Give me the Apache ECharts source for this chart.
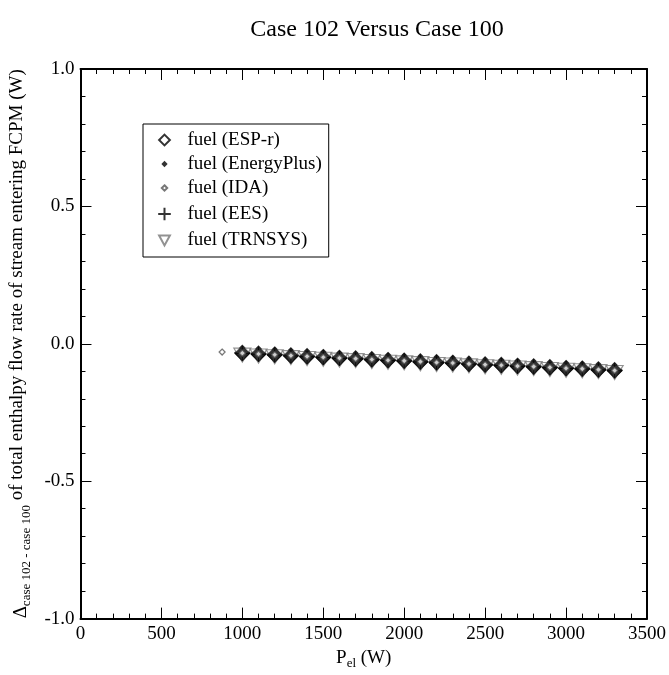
<!DOCTYPE html>
<html><head><meta charset="utf-8">
<script src="https://cdn.jsdelivr.net/npm/echarts@6/dist/echarts.min.js"></script>
<style>html,body{margin:0;padding:0;background:#fff}#c{width:669px;height:675px}</style>
</head><body><div id="c"></div>
<script>
const xTicks = [0, 500, 1000, 1500, 2000, 2500, 3000, 3500];
const yTicks = [-1.0, -0.5, 0.0, 0.5, 1.0];
const pel = [1000,1100,1200,1300,1400,1500,1600,1700,1800,1900,2000,2100,2200,2300,2400,2500,2600,2700,2800,2900,3000,3100,3200,3300];
const espr =   [-0.033,-0.036,-0.039,-0.042,-0.045,-0.048,-0.051,-0.053,-0.056,-0.059,-0.061,-0.064,-0.067,-0.069,-0.072,-0.075,-0.077,-0.080,-0.082,-0.085,-0.088,-0.090,-0.093,-0.096];
const eplus =  [-0.035,-0.038,-0.041,-0.044,-0.047,-0.050,-0.053,-0.055,-0.058,-0.061,-0.063,-0.066,-0.069,-0.071,-0.074,-0.077,-0.079,-0.082,-0.084,-0.087,-0.090,-0.092,-0.095,-0.098];
const idaX =   [875,1000,1100,1200,1300,1400,1500,1600,1700,1800,1900,2000,2100,2200,2300,2400,2500,2600,2700,2800,2900,3000,3100,3200,3300];
const ida =    [-0.030,-0.034,-0.037,-0.040,-0.043,-0.046,-0.049,-0.052,-0.054,-0.057,-0.060,-0.062,-0.065,-0.068,-0.070,-0.073,-0.076,-0.078,-0.081,-0.083,-0.086,-0.089,-0.091,-0.094,-0.097];
const ees =    [-0.035,-0.038,-0.041,-0.044,-0.047,-0.050,-0.053,-0.055,-0.058,-0.061,-0.063,-0.066,-0.069,-0.071,-0.074,-0.077,-0.079,-0.082,-0.084,-0.087,-0.090,-0.092,-0.095,-0.098];
const trnsys = [-0.034,-0.037,-0.040,-0.043,-0.046,-0.049,-0.052,-0.054,-0.057,-0.060,-0.062,-0.065,-0.068,-0.070,-0.073,-0.076,-0.078,-0.081,-0.083,-0.086,-0.089,-0.091,-0.094,-0.097];
const names = ['fuel (ESP-r)','fuel (EnergyPlus)','fuel (IDA)','fuel (EES)','fuel (TRNSYS)'];

const F = 'Liberation Serif, Times New Roman, serif';
const zip = (xs, ys) => xs.map((x,i)=>[x, ys[i]]);
const pad = 'M0,0L0,0M20,20L20,20';
const icons = [
  'path://'+pad+'M10,4L16,10L10,16L4,10Z',
  'path://'+pad+'M10,6.5L13.5,10L10,13.5L6.5,10Z',
  'path://'+pad+'M10,7L13,10L10,13L7,10Z',
  'path://'+pad+'M10,3L10,17M3,10L17,10',
  'path://'+pad+'M4,5L16,5L10,16Z'
];
const tri = 'path://M0,0L14,0L7,12Z';
const plus = 'path://M5,0L5,10M0,5L10,5';

const chart = echarts.init(document.getElementById('c'), null, {renderer:'canvas'});
const axisCommon = () => ({
  axisLine:{onZero:false,lineStyle:{color:'#000',width:2}},
  axisTick:{inside:true,length:11,lineStyle:{color:'#000',width:1}},
  minorTick:{show:true,splitNumber:5,length:5,lineStyle:{color:'#000',width:1}},
  splitLine:{show:false}
});
chart.setOption({
  animation:false,
  backgroundColor:'#fff',
  title:{text:'Case 102 Versus Case 100',left:372,top:13,textAlign:'center',
    textStyle:{fontFamily:F,fontSize:24,fontWeight:'normal',color:'#000'}},
  grid:{left:78,right:20,top:69,bottom:49},
  legend:{orient:'vertical',left:143,top:124,padding:[6,7,7,10],itemGap:4.5,itemWidth:20,itemHeight:18,
    borderColor:'#000',borderWidth:1,backgroundColor:'#fff',
    textStyle:{fontFamily:F,fontSize:19,color:'#000',padding:[0,0,0,8]},
    data:names.map((n,i)=>({name:n,icon:icons[i]}))},
  xAxis:[
    Object.assign({type:'value',min:0,max:3500,interval:500,position:'bottom',
      name:'{p|P}{s|el}{p| (W)}',nameLocation:'middle',nameGap:25,
      nameTextStyle:{rich:{p:{fontFamily:F,fontSize:19,color:'#000'},s:{fontFamily:F,fontSize:13,color:'#000',padding:[11,0,0,0]}}},
      axisLabel:{fontFamily:F,fontSize:19,color:'#000',margin:6,formatter:v=>xTicks.includes(v)?String(v):''}},axisCommon()),
    Object.assign({type:'value',min:0,max:3500,interval:500,position:'top',axisLabel:{show:false}},axisCommon())
  ],
  yAxis:[
    Object.assign({type:'value',min:-1,max:1,interval:0.5,position:'left',
      name:'{d|\u0394}{s|case 102 - case 100}{p| of total enthalpy flow rate of stream entering FCPM (W)}',
      nameLocation:'middle',nameGap:38,
      nameTextStyle:{rich:{p:{fontFamily:F,fontSize:19,color:'#000'},d:{fontFamily:F,fontSize:19,color:'#000',padding:[8,0,0,0]},s:{fontFamily:F,fontSize:13,color:'#000',padding:[19,0,0,0]}}},
      axisLabel:{fontFamily:F,fontSize:19,color:'#000',margin:6,formatter:v=>{const t=yTicks.find(y=>Math.abs(y-v)<1e-9);return t===undefined?'':t.toFixed(1);}}},axisCommon()),
    Object.assign({type:'value',min:-1,max:1,interval:0.5,position:'right',axisLabel:{show:false}},axisCommon())
  ],
  series:[
    {name:names[0],type:'scatter',data:zip(pel,espr),symbol:'diamond',symbolSize:15,
      itemStyle:{color:'#fff',borderColor:'#000',borderWidth:1.2}},
    {name:names[4],type:'scatter',data:zip(pel,trnsys),symbol:tri,symbolSize:[17,14],symbolOffset:[0,2],
      itemStyle:{color:'#fff',borderColor:'#777',borderWidth:1.2}},
    {name:names[3],type:'scatter',data:zip(pel,ees),symbol:plus,symbolSize:15,
      itemStyle:{color:'none',borderColor:'#000',borderWidth:1}},
    {name:names[1],type:'scatter',data:zip(pel,eplus),symbol:'diamond',symbolSize:16,
      itemStyle:{color:'#000',borderColor:'#000',borderWidth:0}},
    {name:names[2],type:'scatter',data:zip(idaX,ida),symbol:'diamond',symbolSize:6,
      itemStyle:{color:'#fff',borderColor:'#555',borderWidth:1.2}}
  ]
});
</script></body></html>
